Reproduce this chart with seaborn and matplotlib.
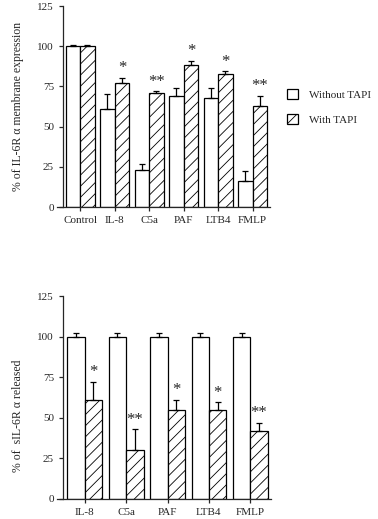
import numpy as np
import pandas as pd
import matplotlib
matplotlib.use("Agg")
import matplotlib.pyplot as plt
import seaborn as sns
from matplotlib.patches import Patch

# upper panel: membrane IL-6R alpha
top_categories = ["Control", "IL-8", "C5a", "PAF", "LTB4", "FMLP"]
top_without = [100, 61, 23, 69, 68, 16]
top_without_err = [0.5, 9, 3.5, 5, 6, 6.5]
top_with = [100, 77, 71, 88, 83, 63]
top_with_err = [0.5, 3.5, 1, 3, 1.5, 6]
top_stars = ["", "*", "**", "*", "*", "**"]

# lower panel: sIL-6R alpha released
bottom_categories = ["IL-8", "C5a", "PAF", "LTB4", "FMLP"]
bottom_without = [100, 100, 100, 100, 100]
bottom_without_err = [2, 2, 2, 2, 2]
bottom_with = [61, 30, 55, 55, 42]
bottom_with_err = [11, 13, 6, 4.5, 5]
bottom_stars = ["*", "**", "*", "*", "**"]

groups = ["Without TAPI", "With TAPI"]
yticks = [0, 25, 50, 75, 100, 125]

sns.set_style("ticks")
plt.rcParams["font.family"] = ["Liberation Serif", "DejaVu Serif"]
plt.rcParams["hatch.linewidth"] = 0.6
plt.rcParams["hatch.color"] = "black"


def draw_panel(ax, cats, without, without_err, with_, with_err, stars, ylabel, label_y):
    n = len(cats)
    df = pd.DataFrame({
        "cat": cats + cats,
        "val": without + with_,
        "grp": [groups[0]] * n + [groups[1]] * n,
    })
    sns.barplot(data=df, x="cat", y="val", hue="grp", order=cats, hue_order=groups,
                palette=["white", "white"], saturation=1, edgecolor="black",
                linewidth=0.9, width=0.84, errorbar=None, legend=False, ax=ax)

    for p in ax.containers[1]:
        p.set_hatch("///")

    for cont, errs in zip(ax.containers, [without_err, with_err]):
        xs = [p.get_x() + p.get_width() / 2 for p in cont]
        tops = [p.get_height() for p in cont]
        ax.errorbar(xs, tops, yerr=[np.zeros(n), errs], fmt="none", ecolor="black",
                    elinewidth=0.9, capsize=2.5, capthick=0.9)

    for p, e, s in zip(ax.containers[1], with_err, stars):
        if s:
            ax.text(p.get_x() + p.get_width() / 2, p.get_height() + e + 1, s,
                    ha="center", va="bottom", fontsize=12)

    ax.set_xlim(-0.67, n - 0.5)
    ax.set_ylim(0, 125)
    ax.set_yticks(yticks)
    ax.set_xlabel("")
    ax.set_ylabel(ylabel, fontsize=8.5)
    ax.yaxis.set_label_coords(-0.155, label_y)
    ax.tick_params(labelsize=8, length=3, width=0.9)
    ax.spines["top"].set_visible(False)
    ax.spines["right"].set_visible(False)
    ax.spines["left"].set_position(("axes", 0.028))
    ax.spines["left"].set_linewidth(0.9)
    ax.spines["bottom"].set_linewidth(0.9)


fig = plt.figure(figsize=(3.78, 5.19), dpi=100)

ax1 = fig.add_axes([57 / 378, 1 - 207 / 519, 213 / 378, 201 / 519])
draw_panel(ax1, top_categories, top_without, top_without_err, top_with, top_with_err,
           top_stars, "% of IL-6R α membrane expression", 0.5)

ax2 = fig.add_axes([57 / 378, 1 - 499 / 519, 214 / 378, 203 / 519])
draw_panel(ax2, bottom_categories, bottom_without, bottom_without_err, bottom_with,
           bottom_with_err, bottom_stars, "% of  sIL-6R α released", 0.41)

handles = [Patch(facecolor="white", edgecolor="black", linewidth=0.9),
           Patch(facecolor="white", edgecolor="black", linewidth=0.9, hatch="///")]
fig.legend(handles=handles, labels=groups, loc="upper left",
           bbox_to_anchor=(277 / 378, 1 - 79 / 519), frameon=False,
           handlelength=1.0, handleheight=1.0, handletextpad=1.0,
           labelspacing=1.3, fontsize=8)

fig.savefig("out.png", dpi=100)
